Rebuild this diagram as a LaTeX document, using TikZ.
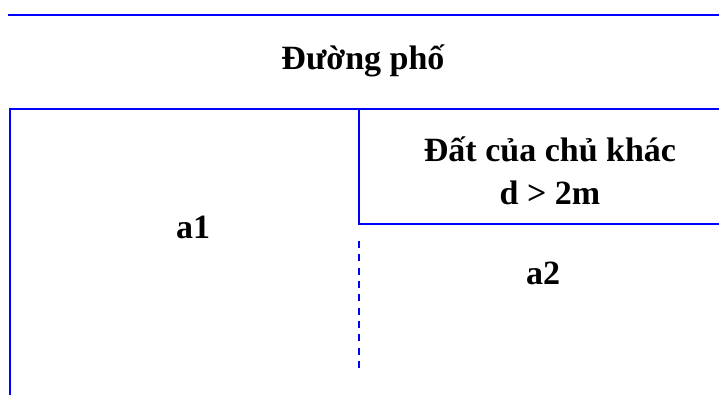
\documentclass[tikz,border=0pt]{standalone}
\usepackage{fontspec}
\setmainfont{Liberation Serif}
\begin{document}
\begin{tikzpicture}[x=1bp,y=-1bp,
  bnd/.style={draw=blue,line width=2bp},
  lbl/.style={anchor=base,inner sep=0pt,font=\bfseries\fontsize{34bp}{43bp}\selectfont,text=black}]
\useasboundingbox (0,0) rectangle (719,395);
% coordinates
\coordinate (tl) at (8,14.7);
\coordinate (tr) at (719,14.7);
\coordinate (lb) at (9.7,395);
\coordinate (lt) at (9.7,109);
\coordinate (rt) at (719,109);
\coordinate (mt) at (358.7,109);
\coordinate (mb) at (358.7,224);
\coordinate (rb) at (719,224);
\coordinate (ds) at (358.7,241);
\coordinate (de) at (358.7,369);
% lines
\draw[bnd] (tl) -- (tr);
\draw[bnd] (lb) -- (lt) -- (rt);
\draw[bnd] (mt) -- (mb) -- (rb);
\draw[bnd,dash pattern=on 7bp off 6.33bp] (ds) -- (de);
% labels
\node[lbl] (street) at (363,69) {Đường phố};
\node[lbl] (other1) at (550,161) {Đất của chủ khác};
\node[lbl] (other2) at (550,204) {d > 2m};
\node[lbl] (a1) at (193,238) {a1};
\node[lbl] (a2) at (543,284) {a2};
\end{tikzpicture}
\end{document}
